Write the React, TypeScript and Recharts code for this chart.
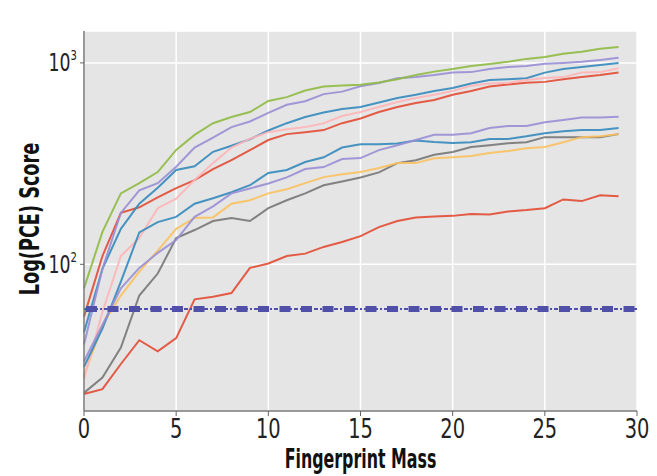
import React from 'react';
import { LineChart, Line, XAxis, YAxis, CartesianGrid, ReferenceLine, Label } from 'recharts';

const mass = [0, 1, 2, 3, 4, 5, 6, 7, 8, 9, 10, 11, 12, 13, 14, 15, 16, 17, 18, 19, 20, 21, 22, 23, 24, 25, 26, 27, 28, 29];

const redTop = [55, 110, 180, 192, 215, 239, 262, 297, 329, 369, 414, 443, 453, 464, 502, 530, 570, 604, 632, 654, 695, 725, 764, 782, 796, 805, 830, 850, 870, 895];
const blueTop = [46, 95, 150, 200, 240, 294, 307, 362, 388, 418, 462, 502, 539, 567, 590, 604, 636, 670, 695, 725, 750, 790, 823, 830, 840, 895, 933, 955, 977, 1000];
const purpleTop = [40, 95, 180, 233, 253, 305, 380, 426, 480, 512, 565, 620, 645, 700, 720, 765, 795, 840, 850, 870, 895, 900, 933, 955, 966, 990, 1000, 1012, 1035, 1060];
const gray = [23, 27.4, 38.6, 70, 90, 135, 148, 164, 170, 164, 190, 208, 225, 247, 258, 270, 286, 318, 329, 350, 361, 382, 390, 399, 404, 428, 428, 428, 428, 443];
const yellow = [28, 50, 70, 92, 117, 150, 170, 171, 200, 208, 225, 236, 253, 271, 280, 287, 301, 318, 318, 336, 340, 345, 357, 365, 377, 382, 404, 428, 432, 443];
const green = [76, 145, 225, 253, 287, 370, 439, 502, 539, 570, 647, 676, 729, 763, 772, 780, 800, 830, 870, 905, 933, 966, 988, 1012, 1047, 1071, 1110, 1135, 1175, 1200];
const pink = [27, 58, 110, 135, 190, 212, 262, 318, 380, 420, 453, 468, 480, 502, 545, 570, 604, 640, 670, 695, 725, 770, 790, 796, 823, 842, 850, 895, 900, 940];
const redBottom = [22.7, 24, 32, 42, 37, 43, 67, 69, 72, 96, 101, 110, 113, 122, 129, 138, 153, 164, 171, 173, 174, 178, 177, 183, 186, 190, 210, 206, 220, 218];
const blueMid = [31, 48, 82, 144, 162, 172, 200, 213, 228, 247, 284, 294, 322, 340, 380, 395, 395, 398, 412, 405, 400, 404, 419, 419, 432, 448, 458, 464, 464, 475];
const purpleMid = [33, 50, 76, 96, 114, 132, 172, 194, 225, 238, 252, 270, 297, 304, 333, 337, 369, 390, 414, 440, 440, 448, 475, 486, 486, 507, 520, 535, 535, 540];

const threshold = 60;
const xTicks = [0, 5, 10, 15, 20, 25, 30];
const yTicks = [100, 1000];

const series = [
  { key: 'redTop', values: redTop, color: '#E24A33' },
  { key: 'blueTop', values: blueTop, color: '#348ABD' },
  { key: 'purpleTop', values: purpleTop, color: '#988ED5' },
  { key: 'gray', values: gray, color: '#777777' },
  { key: 'yellow', values: yellow, color: '#FBC15E' },
  { key: 'green', values: green, color: '#8EBA42' },
  { key: 'pink', values: pink, color: '#FFB5B8' },
  { key: 'redBottom', values: redBottom, color: '#E24A33' },
  { key: 'blueMid', values: blueMid, color: '#348ABD' },
  { key: 'purpleMid', values: purpleMid, color: '#988ED5' },
];

const data = mass.map((m, i) => {
  const row: Record<string, number> = { mass: m };
  series.forEach((s) => { row[s.key] = s.values[i]; });
  return row;
});

const FONT = "'DejaVu Sans', sans-serif";

const YTick = (props: any) => {
  const { x, y, payload } = props;
  const exp = Math.round(Math.log10(payload.value));
  return (
    <g transform={`translate(${x - 1},${y}) scale(0.72,1)`}>
      <text x={0} y={0} textAnchor="end" fontFamily={FONT} fontSize={24} fill="#222" dy={8.5}>
        10<tspan fontSize={14} dy={-11}>{exp}</tspan>
      </text>
    </g>
  );
};

const XTick = (props: any) => {
  const { x, y, payload } = props;
  return (
    <g transform={`translate(${x},${y}) scale(0.72,1)`}>
      <text x={0} y={0} textAnchor="middle" fontFamily={FONT} fontSize={27} fill="#222" dy={20}>
        {payload.value}
      </text>
    </g>
  );
};

export default function App() {
  return (
    <div style={{ borderTop: '3px solid #111', marginTop: -5 }}>
      <LineChart width={649} height={470} data={data} margin={{ top: 25, right: 20, left: 0, bottom: 0 }}>
        <CartesianGrid fill="#E5E5E5" stroke="#FFFFFF" strokeWidth={1.5} />
        <XAxis
          dataKey="mass"
          type="number"
          domain={[0, 30]}
          ticks={xTicks}
          height={65}
          tickSize={5}
          tickLine={{ stroke: '#666' }}
          axisLine={{ stroke: '#777', strokeWidth: 1.5 }}
          tick={<XTick />}
        >
          <Label
            content={(p: any) => {
              const vb = p.viewBox;
              const cx = vb.x + vb.width / 2;
              const cy = vb.y + 57;
              return (
                <g transform={`translate(${cx},${cy}) scale(0.61,1)`}>
                  <text x={0} y={0} textAnchor="middle" fontFamily={FONT} fontWeight="bold" fontSize={26} fill="#111">
                    Fingerprint Mass
                  </text>
                </g>
              );
            }}
          />
        </XAxis>
        <YAxis
          scale="log"
          type="number"
          domain={[18.7, 1440]}
          allowDataOverflow
          ticks={yTicks}
          width={76}
          tickSize={4}
          tickLine={{ stroke: '#666' }}
          axisLine={{ stroke: '#777', strokeWidth: 1.5 }}
          tick={<YTick />}
        >
          <Label
            content={(p: any) => {
              const vb = p.viewBox;
              const cx = 22;
              const cy = vb.y + vb.height / 2 - 2;
              return (
                <g transform={`translate(${cx},${cy}) rotate(-90) scale(0.68,1)`}>
                  <text x={0} y={0} textAnchor="middle" dominantBaseline="central" fontFamily={FONT} fontWeight="bold" fontSize={26} fill="#111">
                    Log(PCE) Score
                  </text>
                </g>
              );
            }}
          />
        </YAxis>
        {series.map((s) => (
          <Line
            key={s.key}
            dataKey={s.key}
            type="linear"
            stroke={s.color}
            strokeWidth={2}
            strokeOpacity={0.9}
            dot={false}
            isAnimationActive={false}
          />
        ))}
        <ReferenceLine y={threshold} stroke="#5050A8" strokeWidth={2} strokeDasharray="4 2 2 2" />
        <ReferenceLine y={threshold} stroke="#5050A8" strokeWidth={6} strokeDasharray="11 10.5" strokeDashoffset={-2} />
      </LineChart>
    </div>
  );
}
